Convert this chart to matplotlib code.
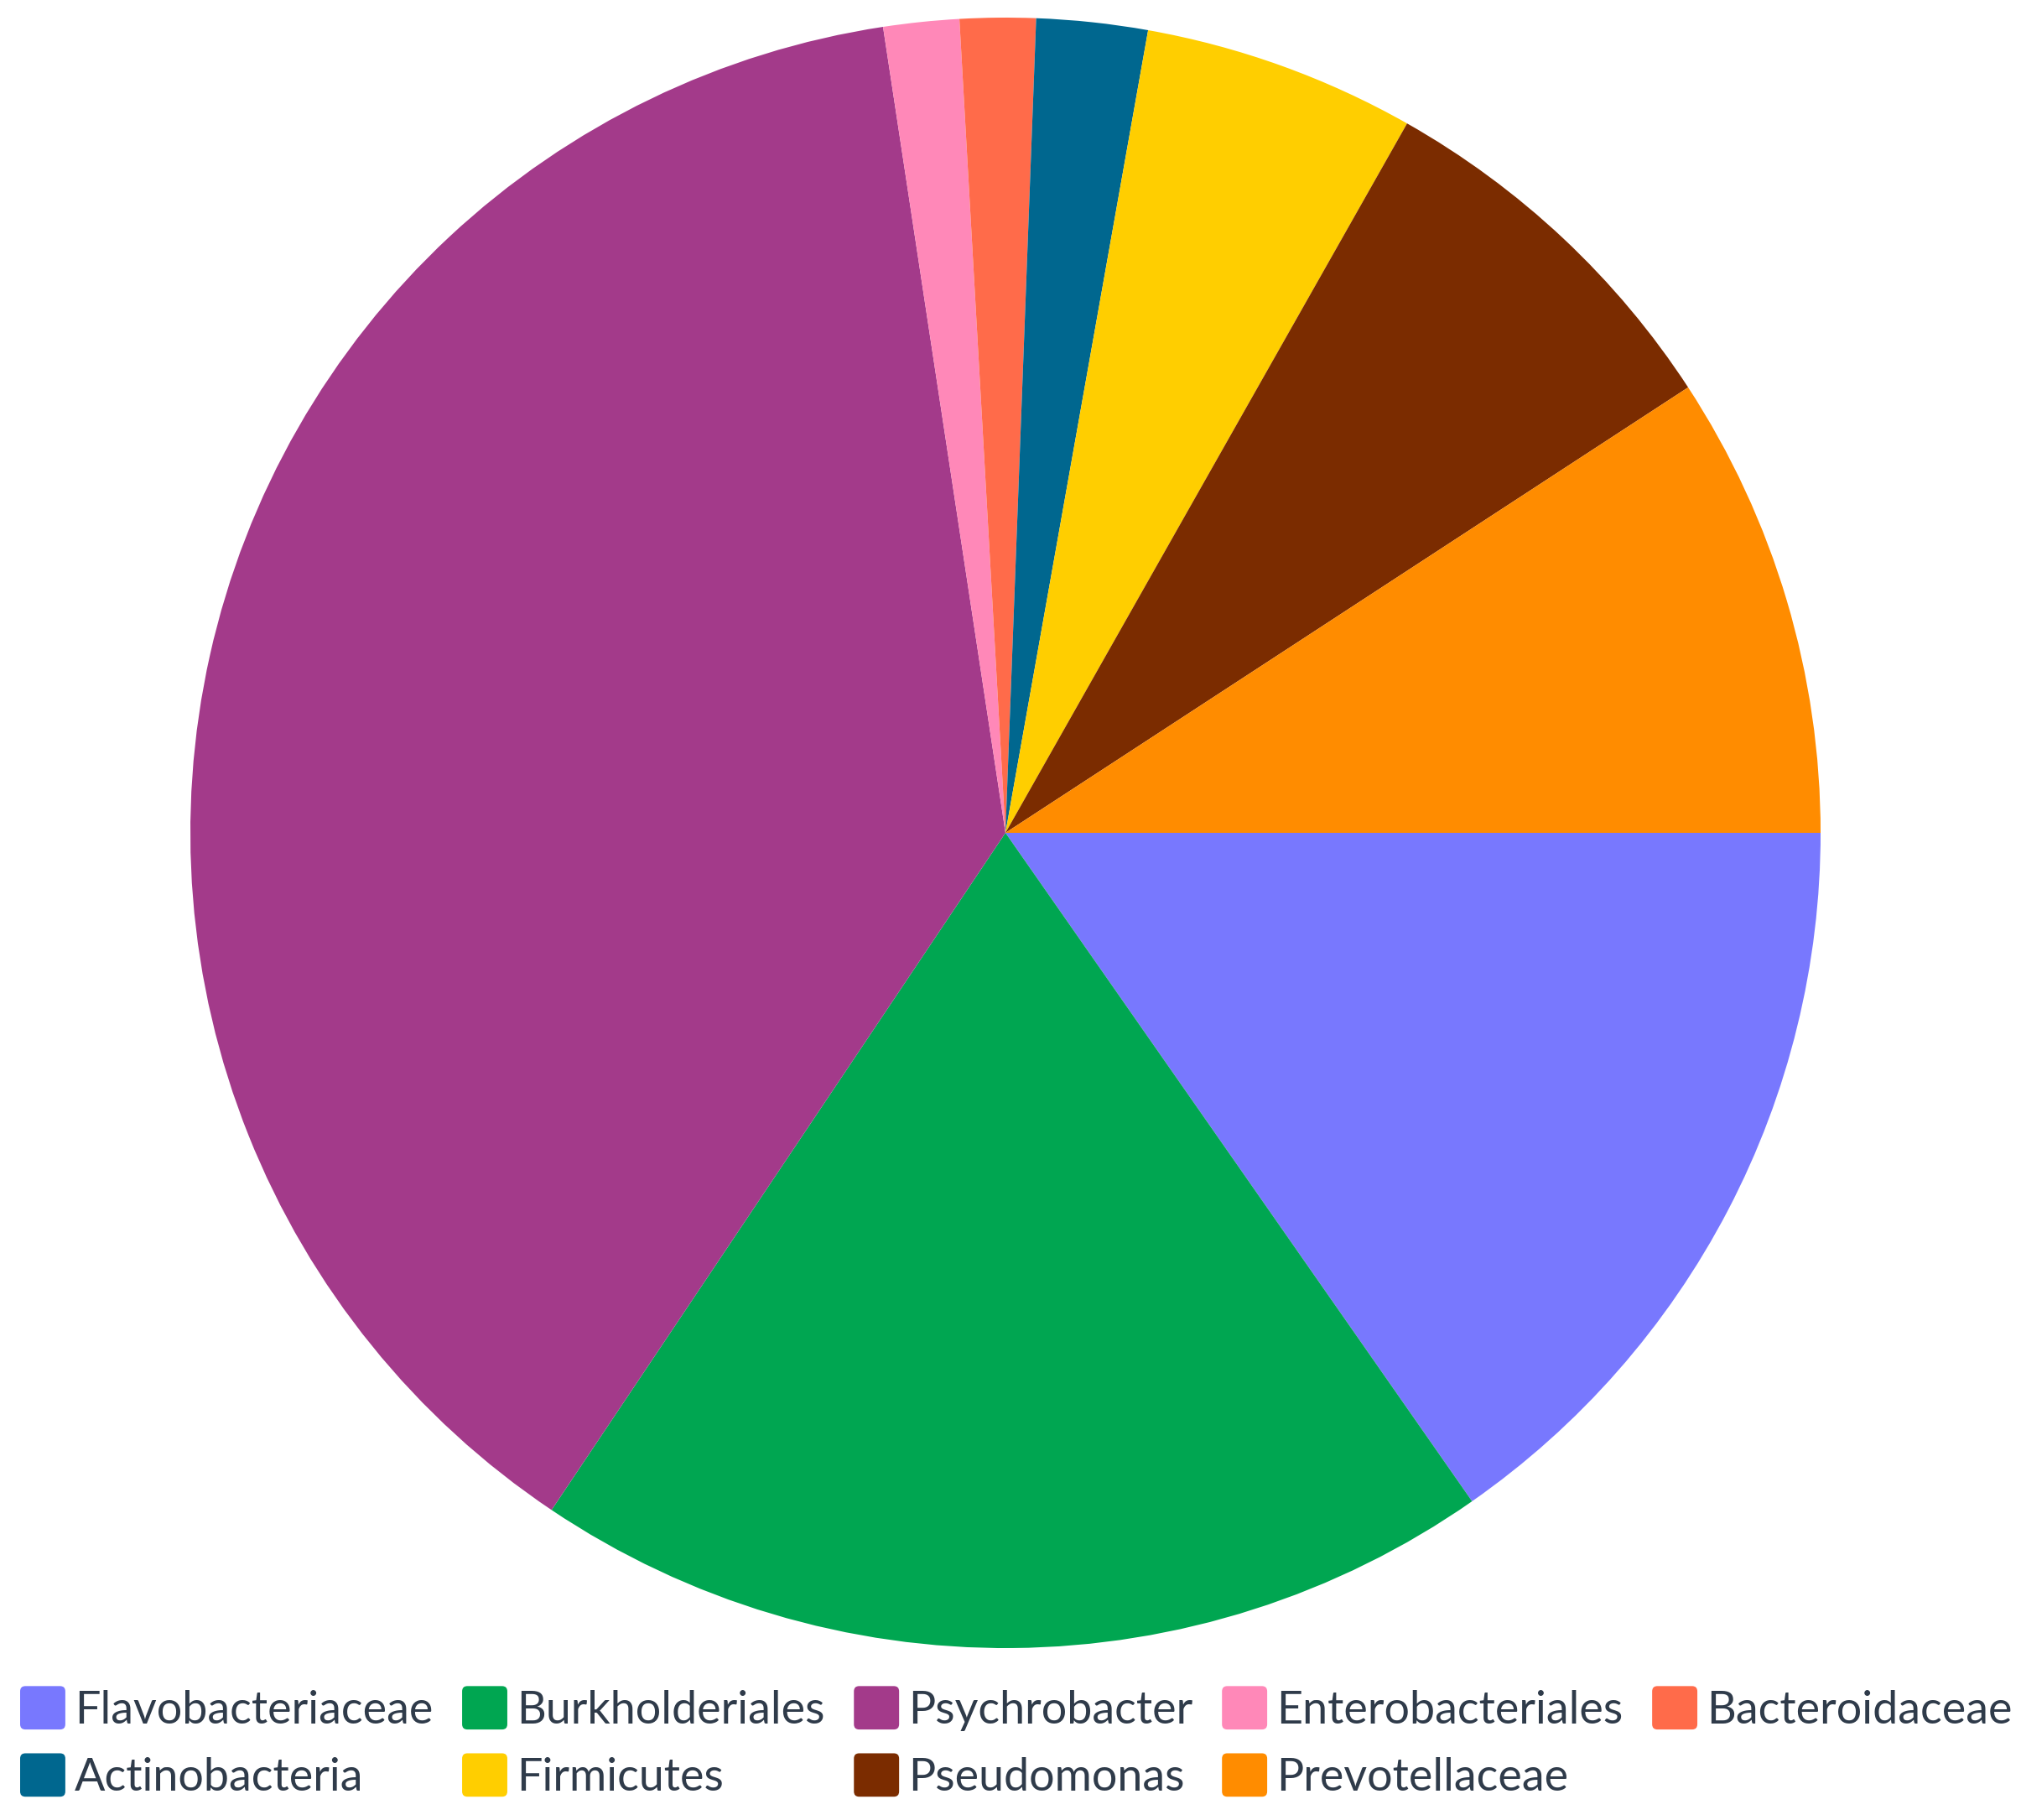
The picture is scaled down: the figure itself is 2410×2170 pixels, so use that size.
import matplotlib.pyplot as plt
from matplotlib.patches import FancyBboxPatch
from matplotlib.legend_handler import HandlerPatch

# taxa, clockwise from 3 o'clock
taxa = ['Flavobacteriaceae', 'Burkholderiales', 'Psychrobacter', 'Enterobacteriales',
        'Bacteroidaceae', 'Actinobacteria', 'Firmicutes', 'Pseudomonas', 'Prevotellaceae']
share = [15.3, 19.1, 38.2, 1.5, 1.5, 2.2, 5.4, 7.6, 9.2]
colors = ['#7878fe', '#00a651', '#a33a8a', '#ff88b8', '#ff6b4a',
          '#00678f', '#ffce00', '#7b2c00', '#ff8c00']

plt.rcParams['font.family'] = ['Lato', 'DejaVu Sans']

W, H = 2410, 2170
fig = plt.figure(figsize=(W / 100, H / 100), dpi=100)
ax = fig.add_axes([227 / W, (H - 1965) / H, 1944 / W, 1944 / H])

wedges, _ = ax.pie(share, colors=colors, startangle=0, counterclock=False,
                   wedgeprops=dict(linewidth=0))
ax.set_xlim(-1, 1)
ax.set_ylim(-1, 1)


# rounded square legend markers
class RoundBox(HandlerPatch):
    def create_artists(self, legend, orig, xdescent, ydescent, width, height, fontsize, trans):
        r = 0.12 * min(width, height)
        p = FancyBboxPatch((-xdescent + r, -ydescent + r), width - 2 * r, height - 2 * r,
                           boxstyle=f'round,pad={r}', facecolor=orig.get_facecolor(),
                           edgecolor='none', transform=trans)
        return [p]


# legend is filled row by row in the reference, matplotlib fills by column
order = [0, 5, 1, 6, 2, 7, 3, 8, 4]
leg = fig.legend([wedges[i] for i in order], [taxa[i] for i in order],
                 handler_map={w: RoundBox() for w in wedges},
                 loc='center left', bbox_to_anchor=(24 / W, 1 - 2077 / H),
                 ncol=5, frameon=False, fontsize=38.8, borderpad=0, borderaxespad=0,
                 handlelength=1.0, handleheight=1.1, handletextpad=0.2,
                 columnspacing=0.65, labelspacing=0.5)
for t in leg.get_texts():
    t.set_color('#2f3b4a')

fig.savefig('out.png', dpi=100, facecolor='white')
